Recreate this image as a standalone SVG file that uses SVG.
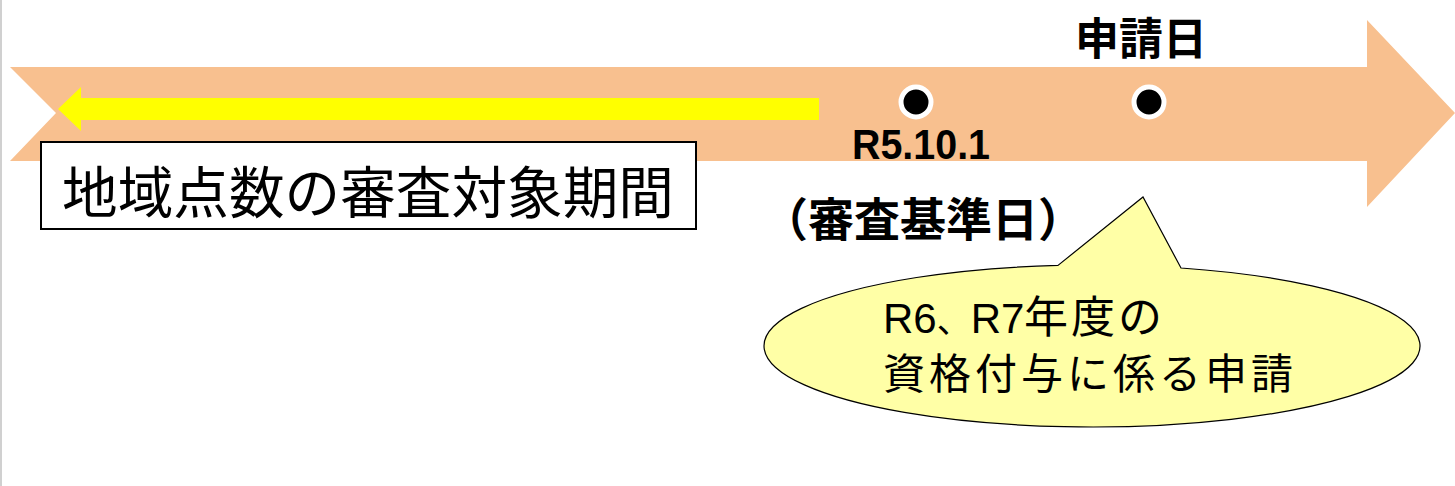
<svg xmlns="http://www.w3.org/2000/svg" width="1455" height="486" viewBox="0 0 1455 486">
<style>
.jp{font-family:"Liberation Sans","Noto Sans CJK JP",sans-serif;fill:#000}
.b{font-weight:bold}
.dot{fill:#000;stroke:#fff;stroke-width:5}
</style>
<rect width="1455" height="486" fill="#fff"/>
<line x1="1" y1="0" x2="1" y2="486" stroke="#d0d0d0" stroke-width="2"/>
<g id="timeline">
<polygon points="10,67 1367,67 1367,20 1455,113 1367,207 1367,161 10,161 56,113" fill="#F8C08F"/>
</g>
<g id="period-arrow">
<polygon points="819,98 81,98 81,87 58,109 81,131 81,120 819,120" fill="#FFFF00"/>
</g>
<g id="dot-r5">
<circle class="dot" cx="916" cy="102" r="15"/>
<text class="jp b" x="852" y="159" font-size="42" textLength="138" lengthAdjust="spacingAndGlyphs">R5.10.1</text>
<text class="jp b" x="762" y="236" font-size="46">（審査基準日）</text>
</g>
<g id="dot-apply">
<circle class="dot" cx="1149" cy="102" r="15"/>
<text class="jp b" x="1075" y="55" font-size="44">申請日</text>
</g>
<g id="period-label">
<rect x="41" y="142" width="655" height="87" fill="#fff" stroke="#000" stroke-width="2"/>
<text class="jp" x="62" y="213" font-size="56" textLength="612" lengthAdjust="spacingAndGlyphs">地域点数の審査対象期間</text>
</g>
<g id="callout">
<path d="M1058,265.4 L1143,197 L1181,268 A328,81 0 1 1 1058,265.4 Z" fill="#FFFFA6" stroke="#000" stroke-width="1.2"/>
<text class="jp" x="883" y="333" font-size="42">R6<tspan font-size="34">、</tspan>R7<tspan x="1024 1071 1118" font-size="44">年度の</tspan></text>
<text class="jp" x="883" y="389" font-size="42" letter-spacing="4">資格付与に係る申請</text>
</g>
</svg>
